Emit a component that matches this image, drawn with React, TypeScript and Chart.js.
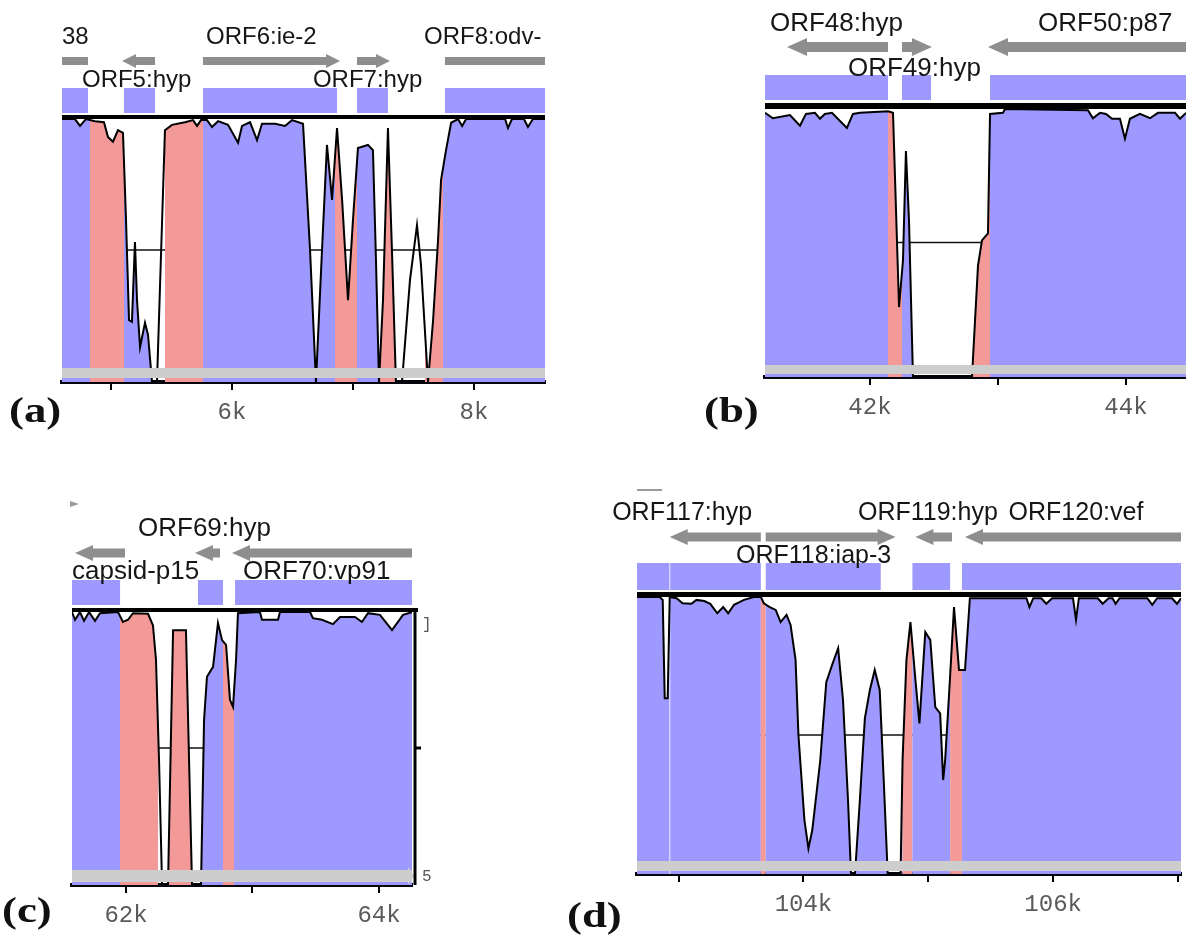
import React, { useEffect, useRef } from "react";
import { Chart, registerables } from "chart.js";

Chart.register(...registerables);

const W = 1186;
const H = 936;
const AXIS_H = 48;
const BLUE = "#9d99fe";
const PINK = "#f39a98";
const ARROW_GRAY = "#8e8e8e";
const BAR_GRAY = "#cdcdcd";

// ---------- Panel (a) ----------
const A_TICKS = [5000, 6000, 7000, 8000];
const A_POS = [4595,4702,4744,4793,4868,4942,4975,5016,5058,5099,5124,5149,5173,5198,5215,5240,5281,5306,5339,5380,5446,5504,5611,5678,5711,5744,5793,5835,5885,5967,6050,6083,6149,6207,6248,6356,6438,6496,6587,6645,6694,6744,6785,6827,6868,6910,6959,7000,7041,7124,7165,7190,7215,7248,7289,7322,7355,7405,7471,7529,7562,7620,7662,7703,7728,7769,7811,7868,7902,7935,8257,8281,8314,8413,8446,8487,8587];
const A_CONS = [99.8,99.8,98.5,99.8,99.4,99.2,96.4,95.5,97.7,97.2,80.7,61.7,61.4,76.5,65.5,56.6,61.2,58.9,50,50,97.7,98.7,99.2,99.6,98.5,99.6,99.6,98.3,99.4,98.7,95.3,98.5,99.2,95.8,98.9,98.9,98.5,99.6,98.9,75,50,75,94.9,84.5,98.1,84.5,65.5,80.7,94.3,94.9,93.9,73.1,50,65.5,98.1,75,50,50,69.3,79.7,72.2,50,61.7,76.9,88.3,93.9,99.1,99.8,98.5,99.8,99.8,98.1,99.8,99.8,98.3,99.8,99.8];
const A_FILL: [number, number, string][] = [[4595,4826,"exon"],[4826,5107,"cns"],[5107,5380,"exon"],[5446,5760,"cns"],[5760,6852,"exon"],[6852,7033,"cns"],[7033,7223,"exon"],[7223,7372,"cns"],[7595,7744,"cns"],[7744,8587,"exon"]];
const A_EXONS: [number, number][] = [[4595,4810],[5107,5364],[5760,6868],[7033,7289],[7760,8587]];
const A_GENES: [number, number, number][] = [[4595,4810,0],[5091,5364,-1],[5760,6893,1],[7033,7306,1],[7760,8587,0]];
const A_LABELS: [string, number, number][] = [["38",4595,0],["ORF6:ie-2",5785,0],["ORF8:odv-",7587,0],["ORF5:hyp",4760,1],["ORF7:hyp",6669,1]];

// ---------- Panel (b) ----------
const B_TICKS = [42000, 43000, 44000];
const B_POS = [41180,41242,41375,41453,41500,41570,41609,41648,41703,41820,41867,41922,42141,42180,42227,42258,42281,42305,42336,42797,42844,42875,42922,42938,43039,43055,43703,43742,43797,43844,43891,43953,43992,44031,44109,44188,44250,44383,44422,44469];
const B_CONS = [99.1,98.1,98.7,96.7,98.9,99.1,98.0,98.9,99.1,96.3,98.9,99.1,99.4,99.1,63.0,71.7,92.0,79.1,50,50,70.7,75.4,76.7,98.9,99.1,99.8,99.6,98.1,99.1,98.9,98.0,98.0,94.3,98.0,98.9,98.1,99.1,99.1,98.0,99.1];
const B_FILL: [number, number, string][] = [[41180,42141,"exon"],[42141,42250,"cns"],[42250,42336,"exon"],[42797,42938,"cns"],[42938,44469,"exon"]];
const B_EXONS: [number, number][] = [[41180,42141],[42250,42477],[42938,44469]];
const B_GENES: [number, number, number][] = [[41352,42141,-1],[42250,42484,1],[42922,44469,-1]];
const B_LABELS: [string, number, number][] = [["ORF48:hyp",41219,0],["ORF50:p87",43313,0],["ORF49:hyp",41828,1]];

// ---------- Panel (c) ----------
const C_TICKS = [62000, 63000, 64000];
const C_POS = [61573,61597,61636,61668,61708,61755,61794,61937,61976,62016,62055,62174,62213,62237,62261,62285,62332,62372,62474,62522,62593,62617,62640,62688,62727,62759,62791,62822,62846,62870,62885,63059,63075,63202,63217,63455,63478,63549,63636,63692,63810,63865,63913,64008,64103,64190,64261];
const C_CONS = [99.8,98.4,99.8,98.2,99.8,98.2,99.6,99.8,98.0,98.4,99.6,99.5,97.4,91.1,72.8,50,50,96.5,96.5,50,50,80.1,88.0,89.8,97.8,94.7,93.8,83.8,82.5,91.1,99.6,99.8,98.4,98.4,99.8,99.8,98.7,98.4,97.6,98.9,98.9,98.0,99.6,99.3,96.5,99.3,99.8];
const C_FILL: [number, number, string][] = [[61573,61953,"exon"],[61953,62253,"cns"],[62332,62522,"cns"],[62569,62767,"exon"],[62767,62854,"cns"],[62854,64261,"exon"]];
const C_EXONS: [number, number][] = [[61573,61953],[62569,62767],[62862,64261]];
const C_GENES: [number, number, number][] = [[61597,61992,-1],[62545,62743,-1],[62838,64261,-1]];
const C_LABELS: [string, number, number][] = [["ORF69:hyp",62095,0],["capsid-p15",61573,1],["ORF70:vp91",62925,1]];

// ---------- Panel (d) ----------
const D_TICKS = [103000, 104000, 105000, 106000, 107000];
const D_POS = [102667,102849,102873,102889,102913,102929,102984,103032,103103,103143,103206,103254,103310,103357,103397,103444,103524,103603,103659,103683,103730,103778,103817,103865,103897,103937,103960,104008,104040,104071,104135,104183,104230,104278,104317,104357,104381,104413,104452,104492,104532,104571,104611,104643,104675,104778,104794,104825,104857,104897,104929,104976,105016,105056,105095,105119,105135,105167,105206,105246,105294,105333,105786,105810,105841,105905,105945,105992,106159,106183,106206,106357,106397,106444,106476,106500,106532,106754,106794,106833,106952,106992,107024];
const D_CONS = [99.8,99.8,99.3,81.6,81.6,99.8,99.6,98.7,98.6,99.3,99.1,98.6,96.9,98.0,96.9,98.4,99.3,99.8,99.8,98.7,98.0,97.5,95.3,96.6,94.8,88.5,75.0,59.7,54.6,57.9,70.5,84.5,87.6,90.6,81.3,63.3,50,50,63.3,78.0,83.1,86.7,83.1,66.9,50,50,70.5,88.5,95.3,84.9,77.1,93.5,92.1,80.0,78.9,66.9,70.5,82.5,98.0,86.7,86.7,99.6,99.6,98.0,99.6,99.6,98.6,99.6,99.6,95.7,99.6,99.6,98.6,99.6,99.6,98.6,99.6,99.6,98.4,99.6,99.6,98.6,99.6];
const D_FILL: [number, number, string][] = [[102667,103659,"exon"],[103659,103698,"cns"],[103698,104794,"exon"],[104794,104873,"cns"],[104873,105175,"exon"],[105175,105270,"cns"],[105270,107024,"exon"]];
const D_EXONS: [number, number][] = [[102667,103659],[103698,104619],[104873,105175],[105270,107024]];
const D_GENES: [number, number, number][] = [[102929,103659,-1],[103698,104738,1],[104897,105190,-1],[105294,107024,-1]];
const D_LABELS: [string, number, number][] = [["ORF117:hyp",102468,0],["ORF119:hyp",104437,0],["ORF120:vef",105643,0],["ORF118:iap-3",103460,1]];
const D_SEPARATORS = [102929];

const PANELS = [
  {
    id: "a", xMin: 4595, xMax: 8587, ticks: A_TICKS,
    pos: A_POS, cons: A_CONS, fill: A_FILL, exons: A_EXONS, genes: A_GENES, labels: A_LABELS, seps: [],
    plot: { left: 62, right: 545, top: 118, bottom: 382 },
    box: [88, 113], arrowY: 61, arrow: { shaft: 8, headH: 14, headL: 14 }, rows: [37, 80], font: 24,
    bar: [368, 378], frameRight: false, topLine: 4,
  },
  {
    id: "b", xMin: 41180, xMax: 44469, ticks: B_TICKS,
    pos: B_POS, cons: B_CONS, fill: B_FILL, exons: B_EXONS, genes: B_GENES, labels: B_LABELS, seps: [],
    plot: { left: 765, right: 1186, top: 108, bottom: 377 },
    box: [75, 100], arrowY: 47, arrow: { shaft: 10, headH: 18, headL: 20 }, rows: [24, 69], font: 26,
    bar: [365, 374], frameRight: false, topLine: 6,
  },
  {
    id: "c", xMin: 61573, xMax: 64261, ticks: C_TICKS,
    pos: C_POS, cons: C_CONS, fill: C_FILL, exons: C_EXONS, genes: C_GENES, labels: C_LABELS, seps: [],
    plot: { left: 72, right: 412, top: 611, bottom: 885 },
    box: [580, 605], arrowY: 553, arrow: { shaft: 9, headH: 16, headL: 18 }, rows: [529, 572], font: 26,
    bar: [870, 882], frameRight: true, topLine: 4,
  },
  {
    id: "d", xMin: 102667, xMax: 107024, ticks: D_TICKS,
    pos: D_POS, cons: D_CONS, fill: D_FILL, exons: D_EXONS, genes: D_GENES, labels: D_LABELS, seps: D_SEPARATORS,
    plot: { left: 637, right: 1186, top: 596, bottom: 874 },
    box: [563, 590], arrowY: 537, arrow: { shaft: 9, headH: 16, headL: 18 }, rows: [513, 556], font: 25,
    bar: [861, 871], frameRight: false, topLine: 5,
  },
];

const PANEL_TAGS = [
  { text: "(a)", left: 9, top: 393 },
  { text: "(b)", left: 704, top: 393 },
  { text: "(c)", left: 2, top: 893 },
  { text: "(d)", left: 567, top: 898 },
];

function drawArrow(ctx: CanvasRenderingContext2D, x0: number, x1: number, yc: number, dir: number, s: any) {
  const { shaft, headH, headL } = s;
  ctx.beginPath();
  if (dir === 0) {
    ctx.rect(x0, yc - shaft / 2, x1 - x0, shaft);
  } else if (dir === 1) {
    const xb = Math.max(x0, x1 - headL);
    ctx.moveTo(x0, yc - shaft / 2);
    ctx.lineTo(xb, yc - shaft / 2);
    ctx.lineTo(xb, yc - headH / 2);
    ctx.lineTo(x1, yc);
    ctx.lineTo(xb, yc + headH / 2);
    ctx.lineTo(xb, yc + shaft / 2);
    ctx.lineTo(x0, yc + shaft / 2);
    ctx.closePath();
  } else {
    const xb = Math.min(x1, x0 + headL);
    ctx.moveTo(x1, yc - shaft / 2);
    ctx.lineTo(xb, yc - shaft / 2);
    ctx.lineTo(xb, yc - headH / 2);
    ctx.lineTo(x0, yc);
    ctx.lineTo(xb, yc + headH / 2);
    ctx.lineTo(xb, yc + shaft / 2);
    ctx.lineTo(x1, yc + shaft / 2);
    ctx.closePath();
  }
  ctx.fill();
}

function makePlugin(cfg: any) {
  return {
    id: "mvista_" + cfg.id,
    beforeDatasetsDraw(chart: any) {
      const { ctx, chartArea: ca } = chart;
      const xs = chart.scales.x;
      const ys = chart.scales.y;
      ctx.save();
      const y75 = ys.getPixelForValue(75);
      ctx.strokeStyle = "#111";
      ctx.lineWidth = 1.5;
      ctx.beginPath();
      ctx.moveTo(ca.left, y75);
      ctx.lineTo(ca.right, y75);
      ctx.stroke();
      const pts = cfg.pos.map((b: number, i: number) => [xs.getPixelForValue(b), ys.getPixelForValue(cfg.cons[i])]);
      for (const [s, e, kind] of cfg.fill) {
        const x0 = xs.getPixelForValue(s);
        const x1 = xs.getPixelForValue(e);
        ctx.save();
        ctx.beginPath();
        ctx.rect(x0, ca.top - 2, x1 - x0, ca.bottom - ca.top + 2);
        ctx.clip();
        ctx.beginPath();
        ctx.moveTo(pts[0][0], ca.bottom);
        for (const [px, py] of pts) ctx.lineTo(px, py);
        ctx.lineTo(pts[pts.length - 1][0], ca.bottom);
        ctx.closePath();
        ctx.fillStyle = kind === "exon" ? BLUE : PINK;
        ctx.fill();
        ctx.restore();
      }
      // faint separators inside the conserved fill
      ctx.strokeStyle = "rgba(255,255,255,0.55)";
      ctx.lineWidth = 1.5;
      for (const sp of cfg.seps) {
        const xp = xs.getPixelForValue(sp);
        ctx.beginPath();
        ctx.moveTo(xp, cfg.box[0]);
        ctx.lineTo(xp, ca.bottom);
        ctx.stroke();
      }
      ctx.restore();
    },
    afterDatasetsDraw(chart: any) {
      const { ctx, chartArea: ca } = chart;
      const xs = chart.scales.x;
      const ys = chart.scales.y;
      ctx.save();
      ctx.fillStyle = BAR_GRAY;
      ctx.fillRect(ca.left, cfg.bar[0], ca.right - ca.left, cfg.bar[1] - cfg.bar[0]);
      if (cfg.frameRight) {
        ctx.beginPath();
        const yb = (cfg.bar[0] + cfg.bar[1]) / 2;
        ctx.moveTo(ca.right - 4, yb - 9);
        ctx.lineTo(ca.right + 2, yb);
        ctx.lineTo(ca.right - 4, yb + 9);
        ctx.closePath();
        ctx.fill();
      }
      const y100 = ys.getPixelForValue(100);
      ctx.strokeStyle = "#000";
      ctx.lineWidth = cfg.topLine;
      ctx.beginPath();
      ctx.moveTo(ca.left, y100 - cfg.topLine / 2 + 1);
      ctx.lineTo(ca.right + (cfg.frameRight ? 6 : 0), y100 - cfg.topLine / 2 + 1);
      ctx.stroke();
      if (cfg.frameRight) {
        ctx.lineWidth = 3;
        ctx.beginPath();
        ctx.moveTo(ca.right + 3, y100 - 3);
        ctx.lineTo(ca.right + 3, ca.bottom);
        ctx.stroke();
        const y75 = ys.getPixelForValue(75);
        ctx.beginPath();
        ctx.moveTo(ca.right + 3, y75);
        ctx.lineTo(ca.right + 9, y75);
        ctx.stroke();
        ctx.fillStyle = "#555";
        ctx.font = '16px "Liberation Mono", monospace';
        ctx.textBaseline = "middle";
        ctx.textAlign = "left";
        ctx.fillText("]", ca.right + 10, y100 + 14);
        ctx.fillText("5", ca.right + 10, ca.bottom - 8);
        ctx.fillStyle = "#9a9a9a";
        ctx.beginPath();
        ctx.moveTo(ca.left - 2, cfg.rows[0] - 28);
        ctx.lineTo(ca.left + 7, cfg.rows[0] - 25);
        ctx.lineTo(ca.left - 2, cfg.rows[0] - 22);
        ctx.closePath();
        ctx.fill();
      }
      if (cfg.id === "d") {
        ctx.strokeStyle = "#9a9a9a";
        ctx.lineWidth = 2;
        ctx.beginPath();
        ctx.moveTo(ca.left, cfg.rows[0] - 23);
        ctx.lineTo(ca.left + 25, cfg.rows[0] - 23);
        ctx.stroke();
      }
      ctx.fillStyle = BLUE;
      for (const [s, e] of cfg.exons) {
        const x0 = xs.getPixelForValue(s);
        const x1 = xs.getPixelForValue(e);
        ctx.fillRect(x0, cfg.box[0], x1 - x0, cfg.box[1] - cfg.box[0]);
      }
      ctx.strokeStyle = "rgba(255,255,255,0.55)";
      ctx.lineWidth = 1.5;
      for (const sp of cfg.seps) {
        const xp = xs.getPixelForValue(sp);
        ctx.beginPath();
        ctx.moveTo(xp, cfg.box[0]);
        ctx.lineTo(xp, cfg.box[1]);
        ctx.stroke();
      }
      ctx.fillStyle = ARROW_GRAY;
      for (const [s, e, dir] of cfg.genes) {
        drawArrow(ctx, xs.getPixelForValue(s), xs.getPixelForValue(e), cfg.arrowY, dir, cfg.arrow);
      }
      ctx.fillStyle = "#161616";
      ctx.font = `${cfg.font}px "Liberation Sans", Arial, sans-serif`;
      ctx.textAlign = "left";
      ctx.textBaseline = "middle";
      for (const [t, s, row] of cfg.labels) {
        ctx.fillText(t, xs.getPixelForValue(s), cfg.rows[row]);
      }
      ctx.restore();
    },
  };
}

function Panel({ cfg }: { cfg: any }) {
  const ref = useRef<HTMLCanvasElement>(null);
  useEffect(() => {
    if (!ref.current) return;
    const p = cfg.plot;
    const chart = new Chart(ref.current, {
      type: "line",
      data: {
        datasets: [
          {
            data: cfg.pos.map((b: number, i: number) => ({ x: b, y: cfg.cons[i] })),
            borderColor: "#000",
            borderWidth: 2,
            pointRadius: 0,
            fill: false,
            tension: 0,
          },
        ],
      },
      options: {
        animation: false,
        responsive: false,
        devicePixelRatio: 1,
        layout: { padding: { left: p.left, right: W - p.right, top: p.top, bottom: H - p.bottom - AXIS_H } },
        plugins: { legend: { display: false }, tooltip: { enabled: false } },
        scales: {
          x: {
            type: "linear",
            min: cfg.xMin,
            max: cfg.xMax,
            afterFit: (s: any) => { s.height = AXIS_H; },
            afterBuildTicks: (s: any) => { s.ticks = cfg.ticks.map((v: number) => ({ value: v })); },
            border: { display: true, color: "#050510", width: 4 },
            grid: { display: true, drawOnChartArea: false, drawTicks: true, tickLength: 8, color: "#000", lineWidth: 2 },
            ticks: {
              autoSkip: false,
              maxRotation: 0,
              padding: 8,
              color: "#5a5a5a",
              font: { family: '"Liberation Mono", monospace', size: 24 },
              callback: (v: any) => ((Number(v) / 1000) % 2 === 0 ? `${Number(v) / 1000}k` : ""),
            },
          },
          y: { display: false, min: 50, max: 100 },
        },
      } as any,
      plugins: [makePlugin(cfg)],
    });
    return () => chart.destroy();
  }, [cfg]);
  return <canvas ref={ref} width={W} height={H} style={{ position: "absolute", left: 0, top: 0 }} />;
}

export default function App() {
  return (
    <div style={{ position: "absolute", left: 0, top: 0, width: W, height: H, background: "#fff", overflow: "hidden" }}>
      {PANELS.map((p) => (
        <Panel key={p.id} cfg={p} />
      ))}
      {PANEL_TAGS.map((t) => (
        <div
          key={t.text}
          style={{
            position: "absolute",
            left: t.left,
            top: t.top,
            font: 'bold 35px "Liberation Serif", "Times New Roman", serif',
            lineHeight: "35px",
            transform: "scaleX(1.28)",
            transformOrigin: "left top",
            color: "#111",
            whiteSpace: "nowrap",
          }}
        >
          {t.text}
        </div>
      ))}
    </div>
  );
}
